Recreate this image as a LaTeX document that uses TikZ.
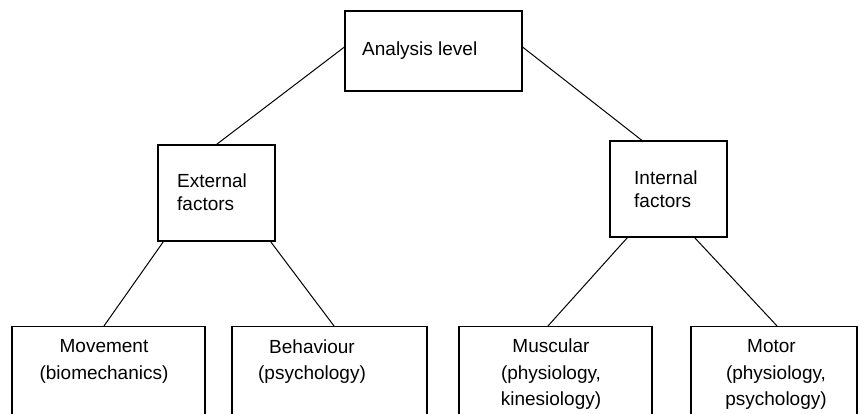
\documentclass[tikz,border=0pt]{standalone}
\usepackage{fontspec}
\setmainfont{Liberation Sans}
\begin{document}
\begin{tikzpicture}[x=1pt,y=-1pt,
  box/.style={draw=black, line width=1.1pt, inner sep=0pt},
  lbl/.style={inner sep=0pt, font=\fontsize{19}{26.5}\selectfont, align=center},
  midlbl/.style={inner sep=0pt, font=\fontsize{19}{22.5}\selectfont, align=left, anchor=west},
  conn/.style={line width=1pt}]
\useasboundingbox (0,0) rectangle (863,413);
\clip (0,0) rectangle (863,413);
% boxes
\node[box, minimum width=177pt, minimum height=80pt] (top) at (433.5,51) {};
\node[box, minimum width=117pt, minimum height=96pt] (ext) at (216.5,193) {};
\node[box, minimum width=117pt, minimum height=96pt] (int) at (668.5,189) {};
\node[box, minimum width=193pt, minimum height=103.5pt] (mov) at (108.5,378.25) {};
\node[box, minimum width=195pt, minimum height=103.5pt] (beh) at (329.5,378.25) {};
\node[box, minimum width=193pt, minimum height=103.5pt] (mus) at (555.5,378.25) {};
\node[box, minimum width=166pt, minimum height=103.5pt] (mot) at (774,378.25) {};
% texts
\node[lbl, anchor=base west] (tTop) at (362,55) {Analysis level};
\node[midlbl] (tExt) at (177,192) {External\\factors};
\node[midlbl] (tInt) at (634,189) {Internal\\factors};
\node[lbl] (tMov) at (104,361.5) {Movement\\(biomechanics)};
\node[lbl] (tBeh) at (312,361.5) {Behaviour\\(psychology)};
\node[lbl] (tMus) at (551,374.5) {Muscular\\(physiology,\\kinesiology)};
\node[lbl] (tMot) at (776,374.5) {Motor\hspace*{9pt}\\(physiology,\\psychology)};
% connectors
\draw[conn] ([yshift=4pt]top.west) -- (ext.north);
\draw[conn] ([yshift=4pt]top.east) -- ([xshift=-26.5pt]int.north);
\draw[conn] ([xshift=6pt]ext.south west) -- ([xshift=-4.5pt]mov.north);
\draw[conn] ([xshift=-5pt]ext.south east) -- ([xshift=4.5pt]beh.north);
\draw[conn] ([xshift=18pt]int.south west) -- ([xshift=-7.5pt]mus.north);
\draw[conn] ([xshift=-33pt]int.south east) -- ([xshift=3pt]mot.north);
\end{tikzpicture}
\end{document}
